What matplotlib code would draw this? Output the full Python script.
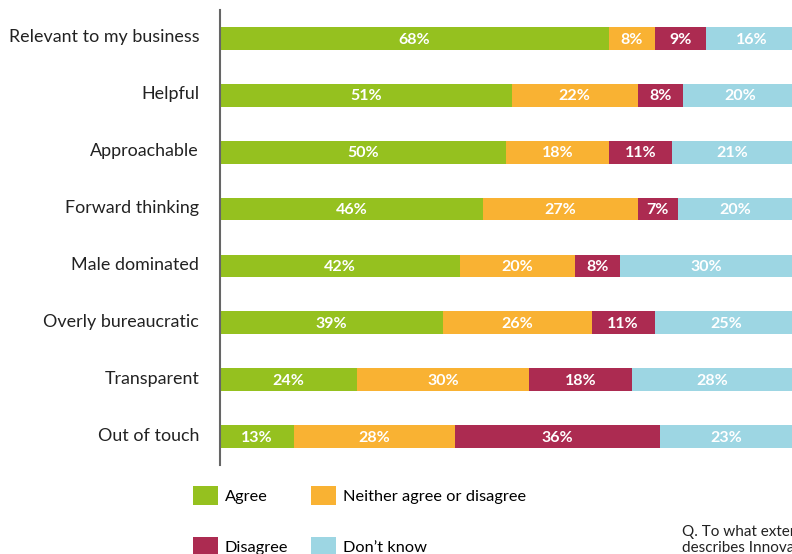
import matplotlib
matplotlib.use("Agg")
import matplotlib.pyplot as plt
import matplotlib.transforms as mtransforms
import numpy as np

plt.rcParams['font.family'] = ['Lato', 'DejaVu Sans']

categories = ["Relevant to my business", "Helpful", "Approachable", "Forward thinking",
              "Male dominated", "Overly bureaucratic", "Transparent", "Out of touch"]
agree = [68, 51, 50, 46, 42, 39, 24, 13]
neither = [8, 22, 18, 27, 20, 26, 30, 28]
disagree = [9, 8, 11, 7, 8, 11, 18, 36]
dont_know = [16, 20, 21, 20, 30, 25, 28, 23]

series = [("Agree", agree, "#95C11F"),
          ("Neither agree or disagree", neither, "#F9B233"),
          ("Disagree", disagree, "#AC2B51"),
          ("Don\u2019t know", dont_know, "#9DD6E3")]

fig = plt.figure(figsize=(7.92, 5.54), dpi=100)
ax = fig.add_axes([220 / 792, 89 / 554, 572 / 792, 455 / 554])

y = np.arange(len(categories))
left = np.zeros(len(categories))
handles = {}
for name, vals, color in series:
    vals = np.array(vals)
    bars = ax.barh(y, vals, left=left, height=0.4, color=color, label=name)
    handles[name] = bars
    for yi, l, v in zip(y, left, vals):
        ax.text(l + v / 2, yi + 0.02, f"{v}%", ha="center", va="center",
                color="white", fontsize=11.5, fontweight="bold")
    left += vals

ax.set_xlim(0, 100)
ax.set_ylim(len(categories) - 0.5, -0.5)
ax.set_yticks(y)
ax.set_yticklabels(categories, fontsize=12.9, color="#222222")
ax.tick_params(axis="y", length=0, pad=15)
# nudge the category labels up a little
shift = mtransforms.ScaledTranslation(0, 2.5 / 100, fig.dpi_scale_trans)
for lbl in ax.get_yticklabels():
    lbl.set_transform(lbl.get_transform() + shift)
ax.set_xticks([])
for s in ["top", "right", "bottom"]:
    ax.spines[s].set_visible(False)
ax.spines["left"].set_color("#666666")
ax.spines["left"].set_linewidth(1.5)

order = ["Agree", "Disagree", "Neither agree or disagree", "Don\u2019t know"]
fig.legend([handles[n] for n in order], order, loc="upper left",
           bbox_to_anchor=(193 / 792, 1 - 486 / 554), ncol=2, frameon=False,
           fontsize=11.8, handlelength=1.5, handleheight=1.45, handletextpad=0.45,
           labelspacing=1.9, columnspacing=1.4, borderpad=0, borderaxespad=0)

fig.text(682 / 792, 1 - 525 / 554,
         "Q. To what extent do you agree that the following\ndescribes Innovate UK?",
         fontsize=11, color="#222222", va="top", ha="left", linespacing=1.2)

fig.savefig("out.png", dpi=100)
